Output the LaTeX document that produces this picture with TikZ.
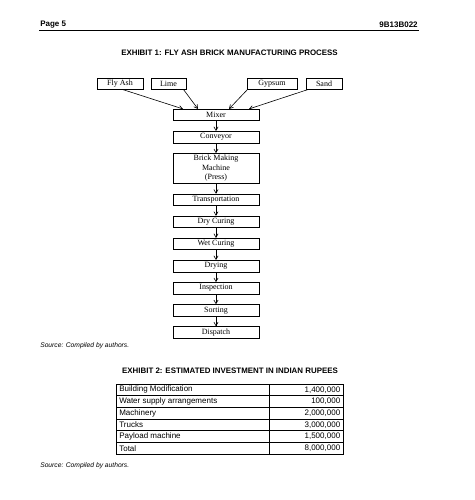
\documentclass[tikz,border=0pt]{standalone}
\usepackage{fontspec}
\setmainfont{Liberation Sans}
\newfontfamily\boxfont{Liberation Serif}
\usepackage{tikz}
\usetikzlibrary{arrows}
\usetikzlibrary{positioning, calc}
\tikzset{
    stepbox/.style = {draw=black, line width=0.6pt, inner sep=0pt,
        minimum width=86pt, minimum height=11.5pt, text centered,
        font=\boxfont\fontsize{8}{9.5}\selectfont},
    inputbox/.style = {stepbox, minimum height=11pt},
    heading/.style = {inner sep=0pt, font=\bfseries\fontsize{7.9}{9}\selectfont},
    source/.style = {inner sep=0pt, anchor=west, font=\itshape\fontsize{6.7}{8}\selectfont},
    cell/.style = {inner sep=0pt, font=\fontsize{8}{9.5}\selectfont},
}

\begin{document}
\begin{tikzpicture}[x=1pt, y=-1pt, ->, >=angle 60, node distance=10pt, line width=0.6pt]
        \useasboundingbox[fill=white] (0,0) rectangle (474,500);
        % page header
        \node (page) [heading, anchor=west, font=\bfseries\fontsize{8}{9}\selectfont] at (40,25) {Page 5};
        \node (case) [heading, anchor=east, font=\bfseries\fontsize{8}{9}\selectfont] at (418,25) {9B13B022};
        \draw [-, line width=1.2pt] (39,30.5) -- (419,30.5);
        \node (title1) [heading] at (229.5,53) {EXHIBIT 1: FLY ASH BRICK MANUFACTURING PROCESS};
        % raw materials
        \node (flyash) [inputbox, minimum width=46pt] at (120,83.5) {Fly Ash};
        \node (lime) [inputbox, minimum width=35pt] at (168.5,83.5) {Lime};
        \node (gypsum) [inputbox, minimum width=50pt] at (272,83.5) {Gypsum};
        \node (sand) [inputbox, minimum width=36pt] at (324,83.5) {Sand};
        % process chain
        \node (mixer) [stepbox] at (216,115) {Mixer};
        \node (conveyor) [stepbox, below=of mixer] {Conveyor};
        \node (press) [stepbox, below=of conveyor, minimum height=30pt, align=center] {Brick Making\\Machine\\(Press)};
        \node (transport) [stepbox, below=of press] {Transportation};
        \node (drycuring) [stepbox, below=of transport] {Dry Curing};
        \node (wetcuring) [stepbox, below=of drycuring] {Wet Curing};
        \node (drying) [stepbox, below=of wetcuring] {Drying};
        \node (inspection) [stepbox, below=of drying] {Inspection};
        \node (sorting) [stepbox, below=of inspection] {Sorting};
        \node (dispatch) [stepbox, below=of sorting] {Dispatch};
        \draw ([xshift=2pt]flyash.south) -- ([xshift=-33pt]mixer.north);
        \draw ([xshift=-3pt]lime.south east) -- ([xshift=-18pt]mixer.north);
        \draw ([xshift=1pt]gypsum.south west) -- ([xshift=13pt]mixer.north);
        \draw ([xshift=3pt]sand.south west) -- ([xshift=33pt]mixer.north);
        \foreach \a/\b in {mixer/conveyor, conveyor/press, press/transport,
                transport/drycuring, drycuring/wetcuring, wetcuring/drying,
                drying/inspection, inspection/sorting, sorting/dispatch}
            \draw (\a) -- (\b);
        \node (source1) [source] at (40,346) {Source: Compiled by authors.};
        % investment table
        \node (title2) [heading] at (230,371) {EXHIBIT 2: ESTIMATED INVESTMENT IN INDIAN RUPEES};
        \foreach \item/\amount [count=\i, evaluate=\i as \top using 384+(\i-1)*11.67] in
                {Building Modification/1{,}400{,}000, Water supply arrangements/100{,}000,
                 Machinery/2{,}000{,}000, Trucks/3{,}000{,}000,
                 Payload machine/1{,}500{,}000, Total/8{,}000{,}000}
        {
            \draw [-] (116,\top) rectangle (269,\top+11.67);
            \draw [-] (269,\top) rectangle (343,\top+11.67);
            \node (item\i) [cell, anchor=west] at (119,\top+5.8) {\item};
            \node (amount\i) [cell, anchor=east] at (340.5,\top+5.8) {\amount};
        }
        \node (source2) [source] at (40,466) {Source: Compiled by authors.};
\end{tikzpicture}
\end{document}
